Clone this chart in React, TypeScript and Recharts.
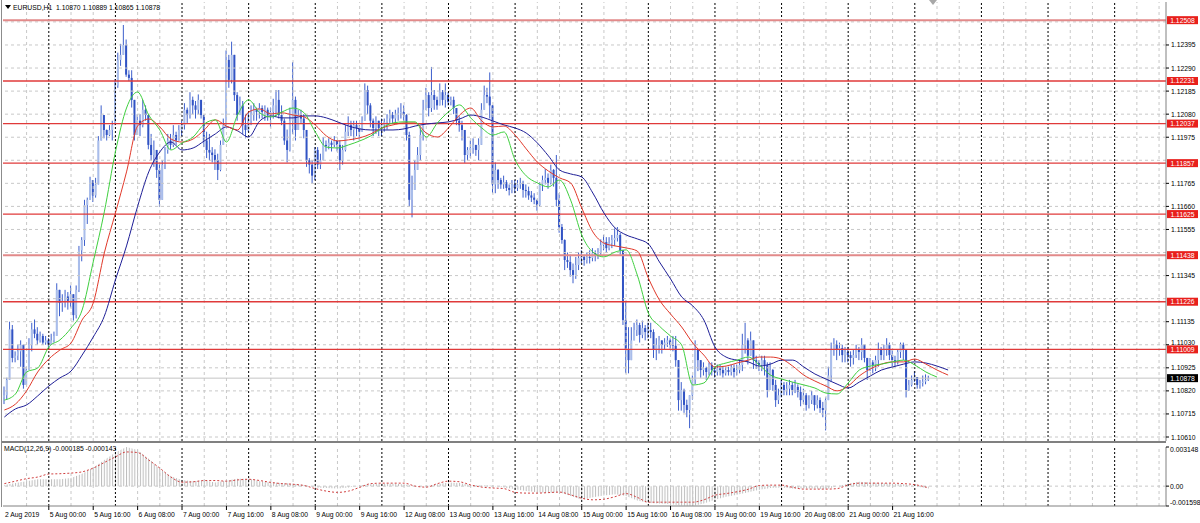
import React from "react";
import { ComposedChart, Bar, Line, Area, XAxis, YAxis, ReferenceLine } from "recharts";

const FONT = '"Liberation Sans", Arial, sans-serif';

// EURUSD H1 candles, 2 Aug 08:00 .. 22 Aug 05:00 (open = previous close)
const FIRST_OPEN = 1.1079;

// week of 2 Aug + 5-9 Aug
const closesW1 = [
  1.108, 1.1087, 1.111, 1.1097, 1.1098, 1.11, 1.1103, 1.10847, 1.10915, 1.1103,
  1.111, 1.1108, 1.1105, 1.1107, 1.1104, 1.1105, 1.1103, 1.1105, 1.1107, 1.1128,
  1.1122, 1.1123, 1.1125, 1.1123, 1.1126, 1.11165, 1.1128, 1.1146, 1.11507, 1.11666,
  1.1169, 1.1178, 1.1171, 1.1176, 1.1196, 1.12076, 1.12008, 1.11985, 1.12008, 1.1203,
  1.1221, 1.12327, 1.1235, 1.12395, 1.1226, 1.12245, 1.12145, 1.11985, 1.1205, 1.1203,
  1.121, 1.12076, 1.1194, 1.11894, 1.11917, 1.11826, 1.1169, 1.11849, 1.11917, 1.1196,
  1.1194, 1.11985, 1.1196, 1.12008, 1.1203, 1.121, 1.12076, 1.12145, 1.1212, 1.121,
  1.12145, 1.12076, 1.1196, 1.11917, 1.11905, 1.11894, 1.1187, 1.11826, 1.1194, 1.1203,
  1.12327, 1.12236, 1.1235, 1.12167, 1.12076, 1.1212, 1.1203, 1.12008, 1.1205, 1.12076,
  1.121, 1.1209, 1.12108, 1.1209, 1.121, 1.12076, 1.1209, 1.1212, 1.12145, 1.12076,
  1.1205, 1.1196, 1.11917, 1.1205, 1.12145, 1.12008, 1.12076, 1.1206, 1.12008, 1.1187,
  1.1185, 1.118, 1.11917, 1.1185, 1.1187, 1.1194, 1.11935, 1.1195, 1.1194, 1.1196,
  1.1194, 1.1187, 1.11917, 1.12, 1.1203, 1.12008, 1.1203, 1.12017, 1.12, 1.1205,
  1.1219, 1.1212, 1.1205, 1.12017, 1.1205, 1.12017,
];
const highsW1 = [
  1.1084, 1.1088, 1.11135, 1.1112, 1.11, 1.1103, 1.1105, 1.1102, 1.1093, 1.1106,
  1.1113, 1.11145, 1.1111, 1.1109, 1.1108, 1.1107, 1.1106, 1.1108, 1.1109, 1.1131,
  1.1127, 1.1126, 1.1128, 1.1127, 1.113, 1.1125, 1.113, 1.1148, 1.1152, 1.1169,
  1.117, 1.11795, 1.1178, 1.1179, 1.1198, 1.1212, 1.1207, 1.1201, 1.1203, 1.1205,
  1.1224, 1.1236, 1.124, 1.12486, 1.1242, 1.1228, 1.1228, 1.1212, 1.1208, 1.1208,
  1.12145, 1.1212, 1.1205, 1.1199, 1.1196, 1.119, 1.1186, 1.1187, 1.1193, 1.1199,
  1.1199, 1.1203, 1.12, 1.1203, 1.1205, 1.1213, 1.1211, 1.1218, 1.1216, 1.1214,
  1.1217, 1.1213, 1.1207, 1.12, 1.1199, 1.1193, 1.1192, 1.119, 1.1196, 1.1206,
  1.1237, 1.1235, 1.1241, 1.1232, 1.1218, 1.1216, 1.1214, 1.1208, 1.12085, 1.1212,
  1.1213, 1.1211, 1.1213, 1.1212, 1.1212, 1.1211, 1.1211, 1.1215, 1.1219, 1.1219,
  1.1212, 1.1206, 1.1201, 1.1211, 1.12317, 1.1216, 1.121, 1.121, 1.1208, 1.1196,
  1.1188, 1.1187, 1.1193, 1.1193, 1.119, 1.11976, 1.1196, 1.1197, 1.1196, 1.1198,
  1.1196, 1.1196, 1.1194, 1.1203, 1.1207, 1.1205, 1.1205, 1.1205, 1.1203, 1.1207,
  1.1222, 1.1221, 1.1213, 1.1206, 1.1207, 1.1205,
];
const lowsW1 = [
  1.1076, 1.1078, 1.1087, 1.1095, 1.1095, 1.1096, 1.1093, 1.1083, 1.1085, 1.1092,
  1.11, 1.1106, 1.1103, 1.1104, 1.1103, 1.1103, 1.1101, 1.1103, 1.1104, 1.1107,
  1.1116, 1.1118, 1.112, 1.1119, 1.112, 1.1114, 1.1115, 1.1127, 1.1141, 1.1148,
  1.1158, 1.117, 1.1168, 1.117, 1.1178, 1.1196, 1.1197, 1.1196, 1.1198, 1.1196,
  1.1203, 1.122, 1.123, 1.1235, 1.1225, 1.1223, 1.1211, 1.1196, 1.12, 1.1198,
  1.1202, 1.1205, 1.1192, 1.1187, 1.1184, 1.1179, 1.11657, 1.117, 1.1183, 1.119,
  1.1192, 1.1193, 1.1194, 1.1196, 1.1198, 1.1201, 1.1204, 1.1206, 1.1208, 1.1206,
  1.1208, 1.1206, 1.1193, 1.1188, 1.1187, 1.1186, 1.11826, 1.1178, 1.1182, 1.1194,
  1.1203, 1.122, 1.1222, 1.1214, 1.1205, 1.1209, 1.1199, 1.1197, 1.12, 1.1203,
  1.1205, 1.1205, 1.1206, 1.1206, 1.1205, 1.1205, 1.1202, 1.1206, 1.1207, 1.1206,
  1.1203, 1.1194, 1.1186, 1.1191, 1.1199, 1.1196, 1.1202, 1.1204, 1.1197, 1.1184,
  1.1181, 1.11766, 1.1178, 1.1183, 1.1183, 1.1188, 1.1191, 1.1192, 1.1191, 1.1193,
  1.1191, 1.11826, 1.1185, 1.1191, 1.1198, 1.1198, 1.1196, 1.1198, 1.1196, 1.12,
  1.1205, 1.1208, 1.1202, 1.1198, 1.1199, 1.1198,
];

// 12-16 Aug
const closesW2 = [
  1.1203, 1.12045, 1.1206, 1.12076, 1.1206, 1.12076, 1.12085, 1.1209, 1.12076, 1.11985,
  1.1169, 1.11735, 1.11826, 1.11894, 1.11985, 1.121, 1.12167, 1.12108, 1.12167, 1.12145,
  1.1212, 1.1218, 1.12145, 1.12167, 1.12136, 1.12145, 1.12108, 1.1205, 1.1203, 1.12008,
  1.11894, 1.11917, 1.11926, 1.1194, 1.11917, 1.1194, 1.121, 1.12167, 1.1216, 1.1212,
  1.1176, 1.11826, 1.1178, 1.1176, 1.1177, 1.11744, 1.11735, 1.1176, 1.11744, 1.1176,
  1.11767, 1.11735, 1.1173, 1.1171, 1.117, 1.1169, 1.11666, 1.1176, 1.1178, 1.1179,
  1.11767, 1.11826, 1.1179, 1.1169, 1.11566, 1.11507, 1.11416, 1.11407, 1.1137, 1.11348,
  1.11393, 1.11425, 1.1143, 1.11416, 1.1143, 1.11425, 1.11448, 1.11434, 1.11452, 1.11484,
  1.11498, 1.1147, 1.11493, 1.11507, 1.11516, 1.1153, 1.1146, 1.11143, 1.11006, 1.1096,
  1.1105, 1.11097, 1.1112, 1.11075, 1.11106, 1.11088, 1.11097, 1.11088, 1.11006, 1.1103,
  1.1105, 1.1103, 1.1104, 1.1105, 1.1103, 1.11025, 1.1096, 1.10778, 1.10824, 1.10756,
  1.10733, 1.108, 1.1087, 1.11006, 1.1096, 1.10915, 1.10924, 1.10906, 1.10938, 1.10915,
];
const highsW2 = [
  1.1206, 1.1206, 1.1208, 1.121, 1.1209, 1.121, 1.1211, 1.1213, 1.1212, 1.1208,
  1.12, 1.118, 1.1187, 1.1193, 1.1202, 1.12145, 1.122, 1.1218, 1.12295, 1.1219,
  1.1216, 1.1222, 1.1219, 1.1222, 1.1218, 1.1216, 1.1216, 1.121, 1.1207, 1.1205,
  1.1199, 1.1193, 1.1196, 1.1197, 1.1194, 1.1197, 1.1213, 1.1221, 1.122, 1.1227,
  1.1212, 1.1186, 1.1183, 1.1179, 1.118, 1.1178, 1.1176, 1.1178, 1.1178, 1.1178,
  1.1179, 1.11777, 1.1176, 1.1175, 1.1173, 1.1172, 1.1169, 1.1177, 1.118, 1.1183,
  1.1181, 1.1185, 1.1183, 1.11894, 1.1172, 1.1158, 1.1151, 1.1145, 1.1144, 1.114,
  1.1143, 1.1145, 1.1146, 1.1144, 1.1145, 1.1146, 1.1147, 1.1146, 1.1147, 1.1151,
  1.1153, 1.1152, 1.1152, 1.1153, 1.1156, 1.11566, 1.1154, 1.1146, 1.1123, 1.1111,
  1.1111, 1.1113, 1.11145, 1.1113, 1.1114, 1.1112, 1.1113, 1.1113, 1.111, 1.1106,
  1.1107, 1.1105, 1.1106, 1.1107, 1.1106, 1.1107, 1.1107, 1.1096, 1.1086, 1.1083,
  1.1078, 1.108, 1.1089, 1.1105, 1.1101, 1.1096, 1.1095, 1.1093, 1.1095, 1.1095,
];
const lowsW2 = [
  1.1198, 1.12, 1.1201, 1.1204, 1.1204, 1.1204, 1.1205, 1.1206, 1.1205, 1.1196,
  1.1166, 1.1161, 1.1174, 1.1184, 1.1187, 1.1196, 1.121, 1.1207, 1.1209, 1.121,
  1.121, 1.1212, 1.1212, 1.1211, 1.1212, 1.1212, 1.1208, 1.1203, 1.12, 1.1196,
  1.11858, 1.1187, 1.1188, 1.119, 1.1189, 1.1187, 1.1194, 1.121, 1.1213, 1.1206,
  1.1172, 1.1172, 1.1174, 1.1174, 1.1174, 1.1173, 1.1171, 1.1172, 1.1172, 1.1173,
  1.1174, 1.117, 1.117, 1.1169, 1.1168, 1.1167, 1.1164, 1.1166, 1.1173, 1.1176,
  1.1174, 1.1176, 1.1175, 1.1166, 1.1154, 1.1149, 1.1137, 1.1138, 1.1134, 1.1131,
  1.1133, 1.1137, 1.114, 1.1139, 1.114, 1.114, 1.1141, 1.1141, 1.1142, 1.1144,
  1.1146, 1.1145, 1.1146, 1.1147, 1.1148, 1.115, 1.1144, 1.1112, 1.109, 1.109,
  1.1097, 1.1105, 1.1107, 1.1104, 1.1106, 1.1105, 1.1106, 1.1106, 1.1097, 1.1096,
  1.1099, 1.1099, 1.1101, 1.1102, 1.1101, 1.11, 1.1093, 1.1073, 1.1073, 1.1072,
  1.107, 1.1065, 1.1078, 1.1085, 1.1091, 1.1088, 1.1089, 1.1087, 1.1089, 1.1089,
];

// 19-22 Aug
const closesW3 = [
  1.10906, 1.10924, 1.10915, 1.109, 1.10915, 1.10906, 1.10924, 1.10906, 1.10915, 1.10938,
  1.1103, 1.1105, 1.1098, 1.1105, 1.1096, 1.1095, 1.10938, 1.1096, 1.10938, 1.10824,
  1.10915, 1.10847, 1.10778, 1.108, 1.10847, 1.10824, 1.1083, 1.10847, 1.10824, 1.10838,
  1.10815, 1.10778, 1.108, 1.10756, 1.10778, 1.108, 1.10756, 1.10778, 1.10742, 1.10733,
  1.10778, 1.1089, 1.11006, 1.1103, 1.11006, 1.11015, 1.10983, 1.10997, 1.10983, 1.1097,
  1.10983, 1.11006, 1.10997, 1.1103, 1.1097, 1.10915, 1.1095, 1.10938, 1.1096, 1.11006,
  1.10983, 1.11006, 1.1103, 1.10983, 1.1096, 1.1095, 1.10997, 1.1103, 1.11006, 1.10824,
  1.10847, 1.1087, 1.10883, 1.10847, 1.10856, 1.10862, 1.1087, 1.10878,
];
const highsW3 = [
  1.1093, 1.1094, 1.1094, 1.1093, 1.1093, 1.1093, 1.1094, 1.1094, 1.1094, 1.1096,
  1.1108, 1.1113, 1.1106, 1.1109, 1.1101, 1.1098, 1.1096, 1.1098, 1.1098, 1.1095,
  1.1095, 1.1092, 1.1087, 1.1083, 1.1087, 1.1086, 1.1086, 1.1087, 1.1086, 1.1087,
  1.1085, 1.1084, 1.1083, 1.1081, 1.108, 1.1082, 1.108, 1.108, 1.1079, 1.1077,
  1.1079, 1.1093, 1.1104, 1.1106, 1.1105, 1.1104, 1.1103, 1.1102, 1.1102, 1.11,
  1.1101, 1.1103, 1.1102, 1.1106, 1.1103, 1.1097, 1.1097, 1.1096, 1.1098, 1.1104,
  1.1102, 1.1103, 1.1106, 1.1104, 1.1101, 1.1098, 1.1101, 1.1104, 1.1104, 1.1093,
  1.1087, 1.1089, 1.1091, 1.1088, 1.1087, 1.1089, 1.10895, 1.10889,
];
const lowsW3 = [
  1.1088, 1.1089, 1.1089, 1.1088, 1.1089, 1.1089, 1.1089, 1.1088, 1.1089, 1.109,
  1.1091, 1.1099, 1.1094, 1.1098, 1.1092, 1.1092, 1.1091, 1.1091, 1.1089, 1.1079,
  1.1084, 1.1082, 1.10747, 1.1076, 1.1079, 1.108, 1.108, 1.108, 1.108, 1.1081,
  1.1079, 1.1075, 1.1076, 1.1073, 1.1074, 1.1076, 1.1073, 1.1074, 1.1072, 1.107,
  1.1064, 1.1078, 1.1086, 1.1098, 1.1096, 1.1098, 1.1095, 1.1095, 1.1095, 1.1093,
  1.1094, 1.1097, 1.1096, 1.1096, 1.1095, 1.1087, 1.1091, 1.109, 1.1091, 1.1093,
  1.1096, 1.1096, 1.1098, 1.1096, 1.1093, 1.1093, 1.1094, 1.1097, 1.1096, 1.1079,
  1.1082, 1.1084, 1.1086, 1.1083, 1.1083, 1.1084, 1.1085, 1.10865,
];

// Alligator lines, one value every 4 bars from bar 0
const lipsValues = [
  1.10778, 1.10806, 1.10906, 1.10924, 1.1102, 1.11052, 1.11106, 1.11188, 1.11407, 1.11635,
  1.11908, 1.12108, 1.12181, 1.12076, 1.12008, 1.11917, 1.11949, 1.11976, 1.12035, 1.12054,
  1.11953, 1.12076, 1.12145, 1.12086, 1.12067, 1.1209, 1.12108, 1.12086, 1.11999, 1.1193,
  1.11926, 1.1194, 1.11958, 1.11981, 1.12017, 1.1204, 1.12045, 1.12045, 1.11976, 1.1204,
  1.1209, 1.12122, 1.12063, 1.12017, 1.11985, 1.11999, 1.11871, 1.11799, 1.11767, 1.11749,
  1.1178, 1.11689, 1.1153, 1.11452, 1.1143, 1.11452, 1.11462, 1.11348, 1.11175, 1.11115,
  1.1107, 1.11029, 1.10847, 1.10856, 1.10929, 1.10947, 1.1096, 1.10974, 1.10938, 1.10892,
  1.10874, 1.1086, 1.10847, 1.10833, 1.1081, 1.10806, 1.10856, 1.10915, 1.10933, 1.10942,
  1.10952, 1.1096, 1.10938, 1.10906, 1.10883,
];
const teethValues = [
  1.10733, 1.1076, 1.1082, 1.10906, 1.10965, 1.11006, 1.11038, 1.11143, 1.1122, 1.11448,
  1.1163, 1.11817, 1.12026, 1.12058, 1.12022, 1.11967, 1.11953, 1.11967, 1.12008, 1.12054,
  1.12026, 1.12008, 1.1209, 1.12104, 1.12081, 1.12086, 1.12076, 1.12067, 1.12031, 1.11981,
  1.11958, 1.11963, 1.11972, 1.1199, 1.12017, 1.12031, 1.1204, 1.1204, 1.11994, 1.11976,
  1.12017, 1.12076, 1.12108, 1.12049, 1.12022, 1.12026, 1.11985, 1.11922, 1.11862, 1.11821,
  1.1179, 1.11767, 1.11653, 1.11544, 1.11493, 1.1148, 1.11471, 1.11457, 1.11334, 1.11234,
  1.1117, 1.11111, 1.11038, 1.10983, 1.10929, 1.10933, 1.10947, 1.1096, 1.10974, 1.10974,
  1.10965, 1.10933, 1.10892, 1.10865, 1.10842, 1.1082, 1.10842, 1.10888, 1.1092, 1.10942,
  1.10952, 1.10952, 1.10965, 1.10942, 1.10915, 1.10892,
];
const jawValues = [
  1.10701, 1.10738, 1.10756, 1.10797, 1.10842, 1.10879, 1.1091, 1.10983, 1.11065, 1.1116,
  1.11325, 1.1148, 1.1166, 1.11817, 1.11908, 1.11953, 1.11917, 1.11926, 1.11958, 1.1199,
  1.12022, 1.12004, 1.11976, 1.12049, 1.12072, 1.12063, 1.12063, 1.12072, 1.12072, 1.12063,
  1.12045, 1.12026, 1.12013, 1.12008, 1.12008, 1.12008, 1.12013, 1.12026, 1.12035, 1.1204,
  1.12045, 1.12058, 1.12076, 1.12067, 1.12049, 1.12031, 1.12017, 1.11994, 1.11949, 1.1189,
  1.11826, 1.11808, 1.11794, 1.11721, 1.1163, 1.11562, 1.1153, 1.11512, 1.11489, 1.11407,
  1.1133, 1.11248, 1.11207, 1.11143, 1.1102, 1.10974, 1.1096, 1.10952, 1.10933, 1.10942,
  1.1096, 1.1096, 1.10929, 1.10897, 1.10874, 1.10851, 1.10833, 1.1086, 1.10888, 1.10915,
  1.10929, 1.10942, 1.10952, 1.10947, 1.10933, 1.10915,
];

// MACD(12,26,9): main and signal every 4 bars, plus the last bar
const macdMain = [
  0.0001, 0.00025, 0.0004, 0.00055, 0.00055, 0.00055, 0.00065, 0.001, 0.0015, 0.0021,
  0.0027, 0.00314, 0.0029, 0.0022, 0.0014, 0.0008, 0.0005, 0.0004, 0.00045, 0.0003,
  0.00045, 0.0006, 0.0006, 0.0004, 0.0003, 0.00025, 0.0002, 0.0001, -0.0001, -0.00015,
  -0.0002, -0.0001, 0.00005, 0.00015, 0.0002, 0.0002, 0.00015, 0, 0, 0.00015,
  0.0003, 0.00025, 0.0001, 0.00005, 0.00005, -0.0001, -0.00025, -0.0004, -0.0005, -0.00055,
  -0.0005, -0.0008, -0.0011, -0.0009, -0.00075, -0.00065, -0.0008, -0.00115, -0.00135, -0.0014,
  -0.00145, -0.00155, -0.00159, -0.0014, -0.0011, -0.00085, -0.0007, -0.0005, -0.0003, -0.00015,
  -0.0001, -0.0002, -0.0002, -0.0002, -0.00025, 0, 0.0002, 0.00035, 0.0003, 0.00025,
  0.0002, 0.00015, 0, -0.00015,
];
const macdSignal = [
  0.0002, 0.0004, 0.0006, 0.00073, 0.00097, 0.001, 0.00105, 0.00115, 0.00145, 0.0019,
  0.00235, 0.00275, 0.0027, 0.0021, 0.00145, 0.00073, 0.00032, 0.00035, 0.00045, 0.00045,
  0.0004, 0.0005, 0.00055, 0.00045, 0.0003, 0.0002, 0.00015, 0.00005, -0.0002, -0.0004,
  -0.0005, -0.0004, -0.0001, 0.0002, 0.00024, 0.00024, 0.00024, 0, -0.00008, 0.0002,
  0.0004, 0.00035, 0.0001, -0.00008, -0.00015, -0.0002, -0.0005, -0.00056, -0.00056, -0.00052,
  -0.00048, -0.0007, -0.00097, -0.0011, -0.00105, -0.00085, -0.0006, -0.0009, -0.00129, -0.00129,
  -0.00129, -0.00129, -0.00129, -0.0011, -0.00073, -0.0006, -0.00045, -0.00025, 0.00005, 0.00008,
  0.00008, -0.0001, -0.00024, -0.00024, -0.00024, -0.0002, 0.0001, 0.00024, 0.00024, 0.00024,
  0.00024, 0.0002, 0.00012, -0.00008,
];
const MACD_LAST = -0.000185;
const SIGNAL_LAST = -0.000143;

// price axis
const gridLevels = [
  1.1061, 1.10715, 1.1082, 1.10925, 1.1103, 1.11135, 1.1124, 1.11345, 1.1145, 1.11555,
  1.1166, 1.11765, 1.1187, 1.11975, 1.1208, 1.12185, 1.1229, 1.12395, 1.125,
];
const priceTicks = [
  1.1061, 1.10715, 1.1082, 1.10925, 1.1103, 1.11135, 1.11345, 1.11555, 1.1166, 1.11765,
  1.11975, 1.1208, 1.12185, 1.1229, 1.12395,
];
const levelLines = [1.12508, 1.12231, 1.12037, 1.11857, 1.11625, 1.11438, 1.11226, 1.11009];
const softLevels = [1.12508, 1.11438];
const BID = 1.10878;

// time axis (bar index -> label)
const timeTickIdx = [0, 16, 32, 48, 64, 80, 96, 112, 128, 144, 160, 176, 192, 208, 224, 240, 256, 272, 288, 304, 320];
const timeTickLabels = [
  "2 Aug 2019", "5 Aug 00:00", "5 Aug 16:00", "6 Aug 08:00", "7 Aug 00:00", "7 Aug 16:00",
  "8 Aug 08:00", "9 Aug 00:00", "9 Aug 16:00", "12 Aug 08:00", "13 Aug 00:00", "13 Aug 16:00",
  "14 Aug 08:00", "15 Aug 00:00", "15 Aug 16:00", "16 Aug 08:00", "19 Aug 00:00", "19 Aug 16:00",
  "20 Aug 08:00", "21 Aug 00:00", "21 Aug 16:00",
];
const dayStartIdx = [16, 40, 64, 88, 112, 136, 160, 184, 208, 232, 256, 280, 304, 328, 352, 376, 400];

const SLOTS = 419;
const STEP = 4;
const PLOT_LEFT = 3;
const PLOT_RIGHT = 1166;
const BAND = (PLOT_RIGHT - PLOT_LEFT) / SLOTS;

const closes = [...closesW1, ...closesW2, ...closesW3];
const highs = [...highsW1, ...highsW2, ...highsW3];
const lows = [...lowsW1, ...lowsW2, ...lowsW3];
const LAST = closes.length - 1;

const gridIdx: number[] = [];
for (let i = 8; i < SLOTS; i += 8) if (!dayStartIdx.includes(i)) gridIdx.push(i);

const priceRows = Array.from({ length: SLOTS }, (_, i) => {
  const row: any = { i };
  if (i <= LAST) {
    const o = i === 0 ? FIRST_OPEN : closes[i - 1];
    const c = closes[i];
    const hi = Math.max(highs[i], o, c);
    const lo = Math.min(lows[i], o, c);
    Object.assign(row, { o, c, hi, lo, range: [lo, hi] });
  }
  if (i % STEP === 0) {
    const k = i / STEP;
    row.lips = lipsValues[k] ?? null;
    row.teeth = teethValues[k] ?? null;
    row.jaw = jawValues[k] ?? null;
  }
  return row;
});

const macdRows = Array.from({ length: SLOTS }, (_, i) => {
  const row: any = { i };
  if (i % STEP === 0 && i / STEP < macdMain.length) {
    row.macd = macdMain[i / STEP];
    row.signal = macdSignal[i / STEP];
  }
  if (i === LAST) {
    row.macd = MACD_LAST;
    row.signal = SIGNAL_LAST;
  }
  return row;
});

const BULL = "#a9bdea";
const BEAR = "#3153c4";
const WICK = "#3d5fcc";

function Candle(props: any) {
  const { x, y, width, height, payload } = props;
  if (payload == null || payload.hi == null) return null;
  const top = Math.min(y, y + height);
  const h = Math.abs(height);
  const span = payload.hi - payload.lo;
  const k = span > 0 ? h / span : 0;
  const yOf = (v: number) => top + (payload.hi - v) * k;
  const cx = x + width / 2;
  const bTop = yOf(Math.max(payload.o, payload.c));
  const bBot = yOf(Math.min(payload.o, payload.c));
  return (
    <g>
      <line x1={cx} x2={cx} y1={top} y2={top + Math.max(h, 1)} stroke={WICK} strokeWidth={1} />
      <rect
        x={cx - 1}
        y={bTop}
        width={2}
        height={Math.max(1, bBot - bTop)}
        fill={payload.c >= payload.o ? BULL : BEAR}
      />
    </g>
  );
}

function PriceTick({ y, payload }: any) {
  const v = Number(payload.value);
  // 1.11030 sits right above the 1.11009 level box
  const dy = v === 1.1103 ? 0.5 : 2.5;
  return (
    <g>
      <line x1={PLOT_RIGHT} x2={PLOT_RIGHT + 3} y1={y} y2={y} stroke="#000" />
      <text x={PLOT_RIGHT + 5} y={y + dy} fontSize={6.8} fontFamily={FONT} fill="#000">
        {v.toFixed(5)}
      </text>
    </g>
  );
}

function priceBox(value: number, bg: string) {
  return (props: any) => {
    const y = props?.viewBox?.y ?? 0;
    return (
      <g>
        <rect x={PLOT_RIGHT + 1} y={y - 4} width={31} height={8} fill={bg} />
        <text x={PLOT_RIGHT + 16.5} y={y + 2.5} textAnchor="middle" fontSize={6.8} fontFamily={FONT} fill="#fff">
          {value.toFixed(5)}
        </text>
      </g>
    );
  };
}

const MACD_MAX = 0.003148;
const MACD_MIN = -0.001598;
const MACD_TOP = 5;
const MACD_BOTTOM = 64;

function MacdTick({ y, payload }: any) {
  const v = Number(payload.value);
  const label = v === 0 ? "0.00" : v.toFixed(6);
  const dy = v === MACD_MAX ? 4.5 : v === MACD_MIN ? -1.5 : 2.5;
  return (
    <g>
      <line x1={PLOT_RIGHT} x2={PLOT_RIGHT + 3} y1={y} y2={y} stroke="#000" />
      <text x={PLOT_RIGHT + 4} y={y + dy} fontSize={6.8} fontFamily={FONT} fill="#000">
        {label}
      </text>
    </g>
  );
}

function TimeTick({ x, payload }: any) {
  const k = timeTickIdx.indexOf(Number(payload.value));
  if (k < 0) return null;
  const tx = k === 0 ? PLOT_LEFT + 1 : x;
  return (
    <g>
      {k > 0 && <line x1={x} x2={x} y1={MACD_BOTTOM} y2={MACD_BOTTOM + 4} stroke="#000" />}
      <text x={tx + 1} y={MACD_BOTTOM + 11} fontSize={6.8} fontFamily={FONT} fill="#000">
        {timeTickLabels[k]}
      </text>
    </g>
  );
}

function verticalGrid(prefix: string) {
  return [
    ...gridIdx.map((i) => (
      <ReferenceLine key={`${prefix}g${i}`} x={i} stroke="#c8c8c8" strokeDasharray="3 3" />
    )),
    ...dayStartIdx.map((i) => (
      <ReferenceLine key={`${prefix}d${i}`} x={i} stroke="#000" strokeDasharray="2 2" />
    )),
  ];
}

export default function App() {
  return (
    <div style={{ position: "absolute", left: 0, top: 0, width: 1200, height: 523, background: "#fff", overflow: "hidden", fontFamily: FONT }}>
      <div style={{ position: "absolute", left: 0, top: 0 }}>
        <ComposedChart width={1200} height={442} data={priceRows} margin={{ top: 2, right: 0, bottom: 1, left: PLOT_LEFT }}>
          <XAxis dataKey="i" type="category" scale="band" hide />
          <YAxis
            orientation="right"
            width={34}
            domain={[1.105918, 1.125907]}
            allowDataOverflow
            ticks={priceTicks}
            interval={0}
            tick={<PriceTick />}
            tickLine={false}
            axisLine={{ stroke: "#808080" }}
          />
          {gridLevels.map((v) => (
            <ReferenceLine key={`h${v}`} y={v} stroke="#c8c8c8" strokeDasharray="3 3" />
          ))}
          {verticalGrid("m")}
          <ReferenceLine y={BID} stroke="#c4c4c4" label={priceBox(BID, "#000")} />
          {levelLines.map((v) => (
            <ReferenceLine
              key={`l${v}`}
              y={v}
              stroke={softLevels.includes(v) ? "#e28a8a" : "#e03a3a"}
              strokeWidth={softLevels.includes(v) ? 2 : 1.4}
              label={priceBox(v, "#e8201c")}
            />
          ))}
          <Bar dataKey="range" barSize={2} shape={<Candle />} isAnimationActive={false} />
          <Line dataKey="jaw" type="monotone" stroke="#1e1e96" strokeWidth={1} dot={false} connectNulls isAnimationActive={false} />
          <Line dataKey="teeth" type="monotone" stroke="#e0392a" strokeWidth={1} dot={false} connectNulls isAnimationActive={false} />
          <Line dataKey="lips" type="monotone" stroke="#3fcf3f" strokeWidth={1} dot={false} connectNulls isAnimationActive={false} />
        </ComposedChart>
      </div>

      <div style={{ position: "absolute", left: 0, top: 442 }}>
        <ComposedChart width={1200} height={81} data={macdRows} margin={{ top: MACD_TOP, right: 0, bottom: 0, left: PLOT_LEFT }}>
          <defs>
            <pattern id="macdHatch" x={PLOT_LEFT + BAND / 2 - 0.5} y={0} width={BAND} height={8} patternUnits="userSpaceOnUse">
              <rect x={0} y={0} width={1} height={8} fill="#bdbdbd" />
            </pattern>
          </defs>
          <XAxis
            dataKey="i"
            type="category"
            scale="band"
            height={17}
            ticks={timeTickIdx}
            interval={0}
            tick={<TimeTick />}
            tickLine={false}
            axisLine={{ stroke: "#808080" }}
          />
          <YAxis
            orientation="right"
            width={34}
            domain={[MACD_MIN, MACD_MAX]}
            allowDataOverflow
            ticks={[MACD_MAX, 0, MACD_MIN]}
            interval={0}
            tick={<MacdTick />}
            tickLine={false}
            axisLine={{ stroke: "#808080" }}
          />
          <ReferenceLine y={0} stroke="#c8c8c8" strokeDasharray="3 3" />
          {verticalGrid("s")}
          <Area dataKey="macd" type="linear" baseValue={0} fill="url(#macdHatch)" fillOpacity={1} stroke="none" connectNulls isAnimationActive={false} />
          <Line dataKey="signal" type="monotone" stroke="#d04040" strokeWidth={1} strokeDasharray="2 2" dot={false} connectNulls isAnimationActive={false} />
        </ComposedChart>
      </div>

      {/* frame and panel separator */}
      <div style={{ position: "absolute", left: 1, top: 0, width: 1, height: 507, background: "#8c8c8c" }} />
      <div style={{ position: "absolute", left: 2, top: 441, width: 1164, height: 2, background: "#808080" }} />
      <div style={{ position: "absolute", left: 929, top: 0, width: 0, height: 0, borderLeft: "4px solid transparent", borderRight: "4px solid transparent", borderTop: "5px solid #a8a8a8" }} />

      {/* headers */}
      <div style={{ position: "absolute", left: 5, top: 5, width: 0, height: 0, borderLeft: "3px solid transparent", borderRight: "3px solid transparent", borderTop: "4px solid #000" }} />
      <div style={{ position: "absolute", left: 13, top: 3, fontSize: 6.8, color: "#000", whiteSpace: "pre", lineHeight: "9px" }}>
        {"EURUSD,H1  1.10870 1.10889 1.10865 1.10878"}
      </div>
      <div style={{ position: "absolute", left: 4, top: 444, fontSize: 6.8, color: "#000", whiteSpace: "pre", lineHeight: "9px" }}>
        {"MACD(12,26,9) -0.000185 -0.000143"}
      </div>
    </div>
  );
}
